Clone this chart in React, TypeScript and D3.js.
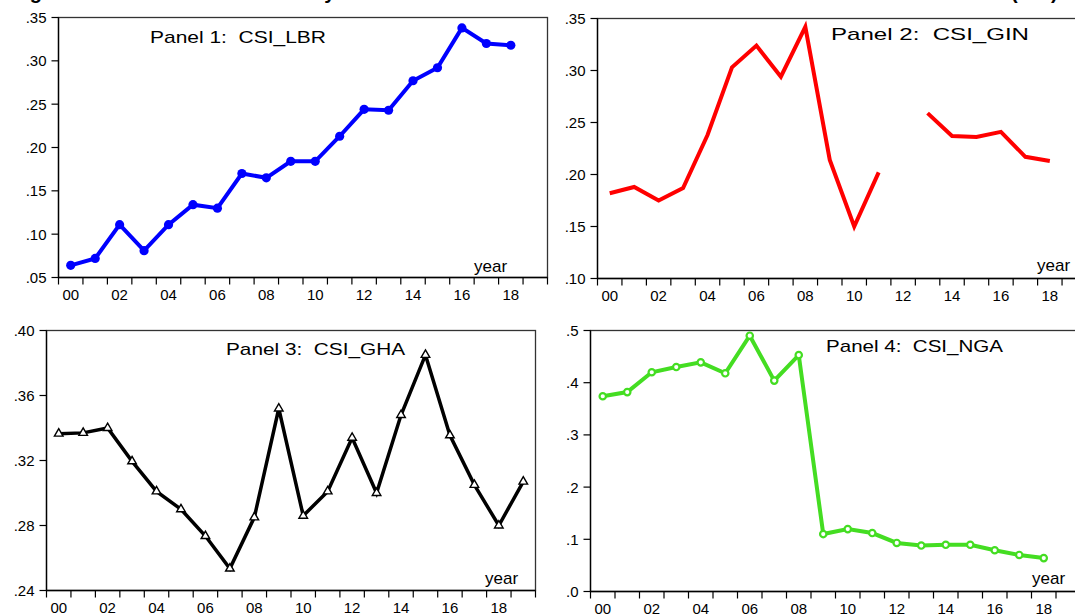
import React from "react";
import * as d3 from "d3";

const years = [2000, 2001, 2002, 2003, 2004, 2005, 2006, 2007, 2008, 2009, 2010, 2011, 2012, 2013, 2014, 2015, 2016, 2017, 2018, 2019];
const yearTickLabels = ["00", "02", "04", "06", "08", "10", "12", "14", "16", "18"];

const csiLBR = [0.064, 0.072, 0.111, 0.081, 0.111, 0.134, 0.130, 0.170, 0.165, 0.184, 0.184, 0.213, 0.244, 0.243, 0.277, 0.292, 0.338, 0.320, 0.318, null];
const csiGIN = [0.182, 0.188, 0.175, 0.187, 0.238, 0.303, 0.324, 0.294, 0.342, 0.214, 0.150, 0.202, null, 0.259, 0.237, 0.236, 0.241, 0.217, 0.213, null];
const csiGHA = [0.3365, 0.337, 0.340, 0.3195, 0.301, 0.290, 0.2735, 0.2535, 0.285, 0.352, 0.286, 0.301, 0.334, 0.300, 0.348, 0.385, 0.3355, 0.305, 0.280, 0.307];
const csiNGA = [0.374, 0.382, 0.420, 0.430, 0.439, 0.418, 0.490, 0.404, 0.453, 0.110, 0.1195, 0.112, 0.093, 0.088, 0.0895, 0.0895, 0.079, 0.070, 0.064, null];

const ticksLBR = [0.05, 0.10, 0.15, 0.20, 0.25, 0.30, 0.35];
const ticksGIN = [0.10, 0.15, 0.20, 0.25, 0.30, 0.35];
const ticksGHA = [0.24, 0.28, 0.32, 0.36, 0.40];
const ticksNGA = [0.0, 0.1, 0.2, 0.3, 0.4, 0.5];

const titleLeft = "Figure 2: Trends in Crisis Severity";
const titleRight = "(CSI)";

const FONT = "'Liberation Sans', Arial, Helvetica, sans-serif";

type Marker = "dot" | "none" | "triangle" | "ring";

interface PanelCfg {
  values: (number | null)[];
  ticks: number[];
  decimals: number;
  color: string;
  marker: Marker;
  lineWidth: number;
  label: string;
  left: number;
  top: number;
  right: number;
  bottom: number;
  labelX: number;
  labelY: number;
  labelW: number;
  yearX: number;
  yearY: number;
}

const panels: PanelCfg[] = [
  { values: csiLBR, ticks: ticksLBR, decimals: 2, color: "#0000FF", marker: "dot", lineWidth: 4, label: "Panel 1:  CSI_LBR",
    left: 58.5, top: 17.5, right: 547.5, bottom: 277.5, labelX: 150, labelY: 43, labelW: 176, yearX: 474, yearY: 272 },
  { values: csiGIN, ticks: ticksGIN, decimals: 2, color: "#FF0000", marker: "none", lineWidth: 4, label: "Panel 2:  CSI_GIN",
    left: 597.5, top: 18.5, right: 1086.5, bottom: 278.5, labelX: 831, labelY: 40, labelW: 198, yearX: 1037, yearY: 271 },
  { values: csiGHA, ticks: ticksGHA, decimals: 2, color: "#000000", marker: "triangle", lineWidth: 3.5, label: "Panel 3:  CSI_GHA",
    left: 46.5, top: 330.5, right: 535.5, bottom: 590.5, labelX: 226, labelY: 355, labelW: 179, yearX: 485, yearY: 584 },
  { values: csiNGA, ticks: ticksNGA, decimals: 1, color: "#44DD22", marker: "ring", lineWidth: 4, label: "Panel 4:  CSI_NGA",
    left: 590.5, top: 330.5, right: 1080.5, bottom: 591.5, labelX: 826, labelY: 352, labelW: 177, yearX: 1032, yearY: 584 },
];

function fmtTick(v: number, decimals: number) {
  return d3.format(`.${decimals}f`)(v).replace(/^0/, "");
}

function Panel({ cfg }: { cfg: PanelCfg }) {
  const x = d3.scaleLinear().domain([years[0], years[years.length - 1] + 1]).range([cfg.left, cfg.right]);
  const y = d3.scaleLinear().domain([cfg.ticks[0], cfg.ticks[cfg.ticks.length - 1]]).range([cfg.bottom, cfg.top]);
  const pts = years.map((yr, i) => ({ yr, v: cfg.values[i] }));
  const line = d3
    .line<{ yr: number; v: number | null }>()
    .defined((d) => d.v != null)
    .x((d) => x(d.yr + 0.5))
    .y((d) => y(d.v as number));
  const boundaries = d3.range(years[0], years[years.length - 1] + 2);
  const valid = pts.filter((d) => d.v != null);
  const tri = d3.symbol().type(d3.symbolTriangle).size(32)();

  return (
    <g>
      <rect x={cfg.left} y={cfg.top} width={cfg.right - cfg.left} height={cfg.bottom - cfg.top} fill="none" stroke="#333" strokeWidth={1.3} />
      <line x1={cfg.left} x2={cfg.left} y1={cfg.top} y2={cfg.bottom} stroke="#000" strokeWidth={1.3} />
      <line x1={cfg.left} x2={cfg.right} y1={cfg.bottom} y2={cfg.bottom} stroke="#000" strokeWidth={1.3} />
      {cfg.ticks.map((t) => (
        <g key={t}>
          <line x1={cfg.left - 7} x2={cfg.left} y1={y(t)} y2={y(t)} stroke="#000" strokeWidth={1.2} />
          <text x={cfg.left - 12} y={y(t)} dy="0.36em" textAnchor="end" fontSize={15} fontFamily={FONT} fill="#000">
            {fmtTick(t, cfg.decimals)}
          </text>
        </g>
      ))}
      {boundaries.map((b) => (
        <line key={b} x1={x(b)} x2={x(b)} y1={cfg.bottom} y2={cfg.bottom + 7} stroke="#000" strokeWidth={1.2} />
      ))}
      {yearTickLabels.map((lab, i) => (
        <text key={lab} x={x(years[0] + i * 2 + 0.5)} y={cfg.bottom + 22} textAnchor="middle" fontSize={15} fontFamily={FONT} fill="#000">
          {lab}
        </text>
      ))}
      <path d={line(pts) || ""} fill="none" stroke={cfg.color} strokeWidth={cfg.lineWidth} strokeLinejoin="miter" strokeLinecap="butt" />
      {cfg.marker === "dot" &&
        valid.map((d) => <circle key={d.yr} cx={x(d.yr + 0.5)} cy={y(d.v as number)} r={4.6} fill={cfg.color} />)}
      {cfg.marker === "ring" &&
        valid.map((d) => (
          <circle key={d.yr} cx={x(d.yr + 0.5)} cy={y(d.v as number)} r={3.2} fill="#fff" stroke={cfg.color} strokeWidth={2.2} />
        ))}
      {cfg.marker === "triangle" &&
        valid.map((d) => (
          <path key={d.yr} d={tri || ""} transform={`translate(${x(d.yr + 0.5)},${y(d.v as number)})`} fill="#fff" stroke="#000" strokeWidth={1.4} />
        ))}
      <text x={cfg.labelX} y={cfg.labelY} fontSize={17} fontFamily={FONT} fill="#000" textLength={cfg.labelW} lengthAdjust="spacingAndGlyphs" style={{ whiteSpace: "pre" }}>
        {cfg.label}
      </text>
      <text x={cfg.yearX} y={cfg.yearY} fontSize={17} fontFamily={FONT} fill="#000">
        year
      </text>
    </g>
  );
}

export default function App() {
  return (
    <svg width={1075} height={616} style={{ position: "absolute", left: 0, top: 0, background: "#fff" }}>
      <rect x={0} y={0} width={1075} height={616} fill="#fff" />
      <text x={12} y={-1.5} fontSize={20} fontWeight="bold" fontFamily={FONT} fill="#000">
        {titleLeft}
      </text>
      <text x={1011} y={-1.5} fontSize={20} fontWeight="bold" fontFamily={FONT} fill="#000">
        {titleRight}
      </text>
      {panels.map((p, i) => (
        <Panel key={i} cfg={p} />
      ))}
    </svg>
  );
}
